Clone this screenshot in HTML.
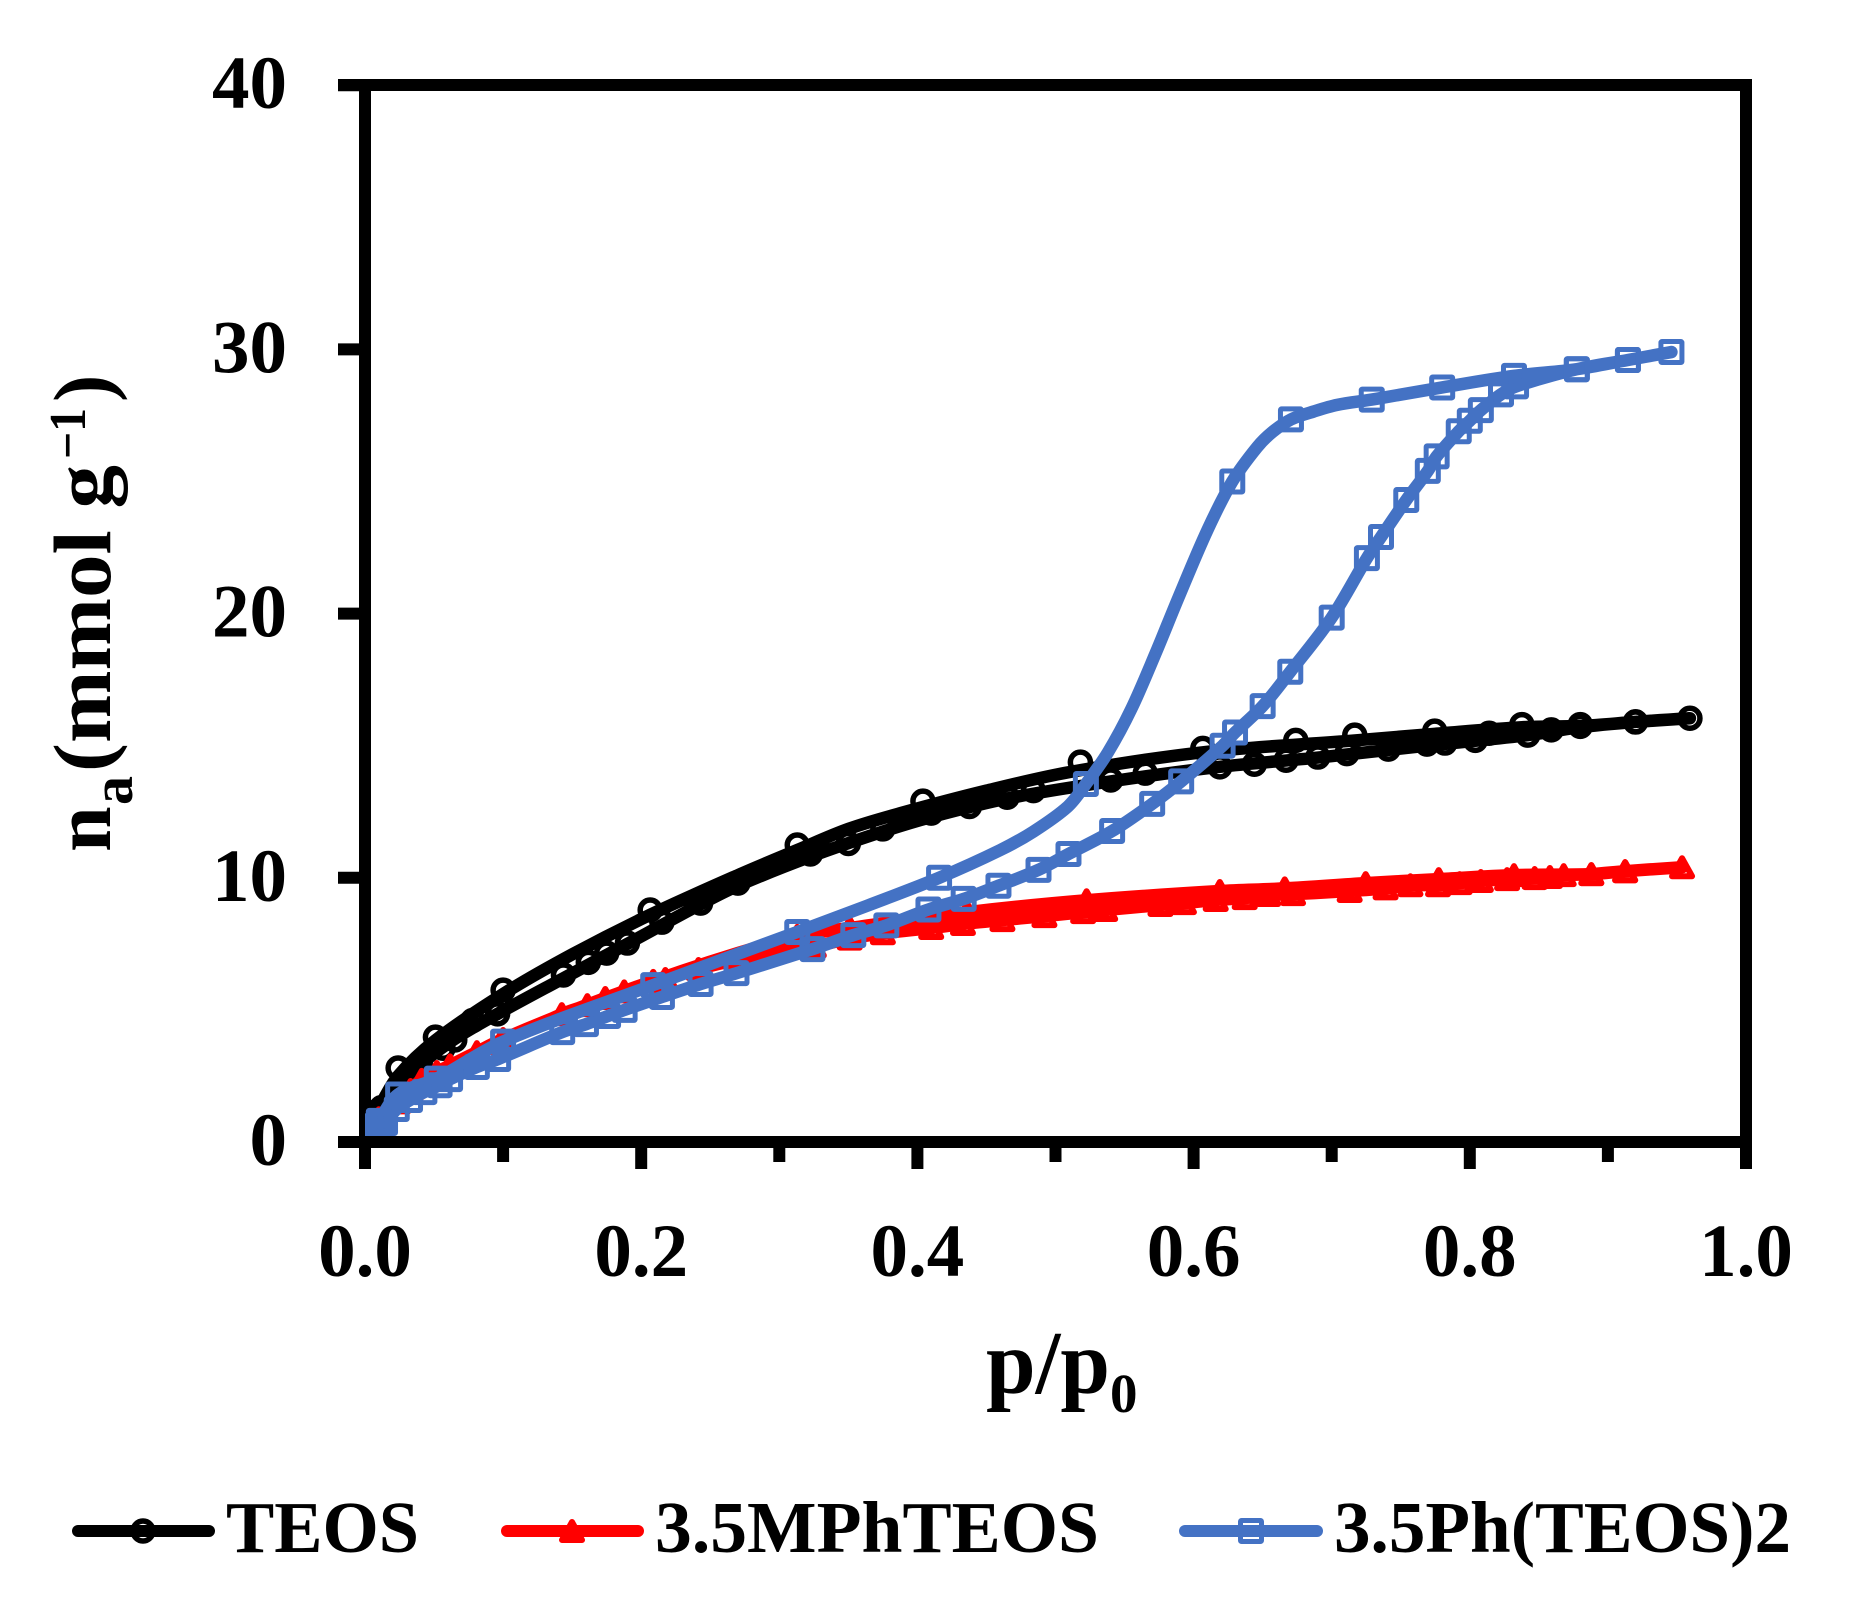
<!DOCTYPE html>
<html lang="en">
<head>
<meta charset="utf-8">
<title>Nitrogen sorption isotherms</title>
<style>
html,body{margin:0;padding:0;background:#fff;}
svg{display:block;}
text{font-family:"Liberation Serif",serif;font-weight:bold;fill:#000;}
</style>
</head>
<body>
<svg id="chart" xmlns="http://www.w3.org/2000/svg" width="1850" height="1604" viewBox="0 0 1850 1604">
  <rect x="0" y="0" width="1850" height="1604" fill="#fff"/>
  <defs>
    <clipPath id="plot-clip"><rect x="365" y="85" width="1381" height="1051"/></clipPath>
  </defs>
  <g id="series-layer" clip-path="url(#plot-clip)"></g>
  <g id="axis-layer"></g>

  <g transform="translate(110,852) rotate(-90)">
    <text x="0" y="0" font-size="82">n</text>
    <text x="47" y="22" font-size="58">a</text>
    <text x="80" y="0" font-size="82" textLength="307" lengthAdjust="spacingAndGlyphs" xml:space="preserve">(mmol g</text>
    <text x="393" y="-25" font-size="52" textLength="51" lengthAdjust="spacingAndGlyphs">−1</text>
    <text x="450" y="0" font-size="82">)</text>
  </g>

  <g>
    <text x="986" y="1393" font-size="90" textLength="124" lengthAdjust="spacingAndGlyphs">p/p</text>
    <text x="1110" y="1412" font-size="55">0</text>
  </g>

  <g>
    <g>
      <line x1="78" y1="1531" x2="209" y2="1531" stroke="#000" stroke-width="12" stroke-linecap="round"/>
      <circle cx="143" cy="1531" r="10" fill="none" stroke="#000" stroke-width="5.5"/>
      <text x="226" y="1552" font-size="73" textLength="193" lengthAdjust="spacingAndGlyphs">TEOS</text>
    </g>
    <g>
      <line x1="507" y1="1531" x2="638" y2="1531" stroke="#f00" stroke-width="12" stroke-linecap="round"/>
      <polygon points="572,1522 582,1540 562,1540" fill="#f00" stroke="#f00" stroke-width="6" stroke-linejoin="round"/>
      <text x="655" y="1552" font-size="73" textLength="444" lengthAdjust="spacingAndGlyphs">3.5MPhTEOS</text>
    </g>
    <g>
      <line x1="1185" y1="1531" x2="1317" y2="1531" stroke="#4472C4" stroke-width="12" stroke-linecap="round"/>
      <rect x="1240.5" y="1520.5" width="21" height="21" rx="1" fill="none" stroke="#4472C4" stroke-width="5"/>
      <text x="1334" y="1552" font-size="73" textLength="457" lengthAdjust="spacingAndGlyphs">3.5Ph(TEOS)2</text>
    </g>
  </g>
</svg>

<script>
// ---- Axis tick data ----
const yTickValues = [0, 10, 20, 30, 40];
const yTickLabels = ["0", "10", "20", "30", "40"];
const xMajorTickValues = [0, 0.2, 0.4, 0.6, 0.8, 1.0];
const xMajorTickLabels = ["0.0", "0.2", "0.4", "0.6", "0.8", "1.0"];
const xMinorTickValues = [0.1, 0.3, 0.5, 0.7, 0.9];

// ---- TEOS measured points ----
const teosP = [0.005,0.012,0.04,0.0565,0.065,0.078,0.096,0.1437,0.1617,0.175,0.19,0.215,0.243,0.27,0.3225,0.35,0.375,0.41,0.4377,0.465,0.484,0.54,0.565,0.619,0.644,0.667,0.69,0.711,0.741,0.769,0.782,0.804,0.814,0.842,0.859,0.88,0.92,0.9594,
               0.92,0.88,0.8377,0.7746,0.7167,0.674,0.6067,0.518,0.404,0.313,0.2065,0.1,0.051,0.024,0.01];
const teosN = [0.8,1.3,3.0,3.55,3.86,4.6,4.85,6.32,6.8,7.15,7.53,8.32,9.04,9.8,10.9,11.3,11.85,12.45,12.7,13.05,13.3,13.7,13.96,14.2,14.3,14.45,14.57,14.7,14.87,15.06,15.1,15.2,15.47,15.4,15.6,15.73,15.9,16.04,
               15.9,15.8,15.8,15.55,15.4,15.2,14.9,14.38,12.9,11.24,8.78,5.75,3.97,2.8,1.2];
// ---- TEOS fitted curve (up the lower branch, back down the upper branch) ----
const teosCurveP = [0.005,0.02,0.04,0.065,0.096,0.1437,0.19,0.243,0.27,0.3225,0.375,0.41,0.465,0.54,0.619,0.69,0.769,0.842,0.88,0.92,0.9594,
                    0.92,0.88,0.8377,0.7746,0.7167,0.6067,0.51,0.45,0.388,0.35,0.313,0.27,0.2065,0.15,0.1,0.051,0.024,0.01];
const teosCurveN = [0.8,1.6,2.9,3.9,4.85,6.2,7.5,9.0,9.7,10.8,11.75,12.3,13.0,13.65,14.2,14.55,15.0,15.4,15.7,15.9,16.04,
                    15.9,15.75,15.7,15.45,15.2,14.75,14.0,13.3,12.45,11.85,11.05,10.1,8.6,7.1,5.6,3.85,2.5,1.3];

// ---- 3.5MPhTEOS (adsorption then desorption) ----
const mphP = [0.012,0.033,0.041,0.052,0.0616,0.081,0.098,0.1425,0.161,0.174,0.1877,0.2175,0.2415,0.27,0.325,0.351,0.375,0.41,0.433,0.4616,0.492,0.52,0.536,0.576,0.593,0.616,0.637,0.654,0.672,0.713,0.739,0.757,0.777,0.7927,0.808,0.827,0.847,0.858,0.868,0.888,0.9125,0.9537,
              0.9125,0.888,0.832,0.7775,0.7246,0.666,0.619,0.5225,0.436,0.351,0.313,0.2087,0.1,0.052,0.024,0.01];
const mphN = [0.9,1.97,2.35,2.65,2.9,3.4,3.75,4.84,5.18,5.45,5.7,6.17,6.55,6.9,7.4,7.7,7.9,8.1,8.25,8.4,8.55,8.7,8.78,8.97,9.04,9.16,9.23,9.35,9.38,9.5,9.6,9.72,9.72,9.8,9.88,9.95,9.99,10.03,10.1,10.14,10.25,10.4,
              10.25,10.14,10.1,9.95,9.8,9.6,9.5,9.15,8.7,8.1,7.8,6.1,3.9,2.5,1.5,0.9];

// ---- 3.5Ph(TEOS)2 (adsorption then desorption); the flag says if a marker is drawn ----
const phP = [0.004,0.008,0.012,0.0145,0.023,0.0326,0.043,0.054,0.0616,0.081,0.0964,0.1428,0.16,0.176,0.188,0.215,0.243,0.269,0.324,0.3536,0.3775,0.408,0.4335,0.4587,0.4877,0.5094,0.541,0.57,0.591,0.621,0.63,0.65,0.67,0.70,0.7255,0.7357,0.754,0.7696,0.776,0.792,0.80,0.808,0.8226,0.8335,0.8775,0.9145,0.946,
             0.9145,0.8775,0.832,0.78,0.729,0.704,0.687,0.6705,0.657,0.646,0.628,0.61,0.589,0.5725,0.555,0.538,0.522,0.509,0.484,0.46,0.4157,0.364,0.313,0.2087,0.1,0.052,0.024,0.01];
const phN = [0.5,0.6,0.65,0.72,1.25,1.59,1.89,2.15,2.38,2.84,3.14,4.16,4.46,4.77,5.0,5.49,5.98,6.39,7.3,7.83,8.2,8.8,9.2,9.7,10.3,10.9,11.77,12.8,13.65,15.0,15.5,16.5,17.8,19.85,22.1,22.9,24.3,25.4,25.95,26.9,27.3,27.7,28.3,28.6,29.25,29.6,29.9,
             29.6,29.25,29.0,28.56,28.1,27.9,27.65,27.35,26.87,26.3,25.0,23.16,20.6,18.5,16.4,14.75,13.55,12.7,11.75,11.05,10.0,8.95,7.95,5.94,3.8,2.4,1.8,0.8];
const phMarked = [1,1,1,1,1,1,1,1,1,1,1,1,1,1,1,1,1,1,1,1,1,1,1,1,1,1,1,1,1,1,1,1,1,1,1,1,1,1,1,1,1,1,1,1,1,1,1,
                  1,1,1,1,1,0,0,1,0,0,1,0,0,0,0,0,1,0,0,0,1,0,1,1,1,1,1,1];

// ---- Axis functions ----
const xScale = function (p) { return 365 + 1381 * p; };
const yScale = function (n) { return 1142 - 26.42 * n; };

const NS = "http://www.w3.org/2000/svg";
const seriesLayer = document.getElementById("series-layer");
const axisLayer = document.getElementById("axis-layer");

function make(tag, parent) {
  const el = document.createElementNS(NS, tag);
  parent.appendChild(el);
  return el;
}

// Chord-length tangents so unevenly spaced readings do not overshoot
function smoothPath(pts) {
  const dist = function (a, b) { return Math.hypot(b[0] - a[0], b[1] - a[1]) || 0.001; };
  const tangent = function (i) {
    const a = pts[Math.max(i - 1, 0)];
    const b = pts[Math.min(i + 1, pts.length - 1)];
    const len = dist(a, b);
    return [(b[0] - a[0]) / len, (b[1] - a[1]) / len];
  };
  let d = "M" + pts[0][0].toFixed(2) + " " + pts[0][1].toFixed(2);
  for (let i = 0; i < pts.length - 1; i++) {
    const p1 = pts[i];
    const p2 = pts[i + 1];
    const h = dist(p1, p2) / 3;
    const t1 = tangent(i);
    const t2 = tangent(i + 1);
    d += "C" + (p1[0] + t1[0] * h).toFixed(2) + " " + (p1[1] + t1[1] * h).toFixed(2) + " " + (p2[0] - t2[0] * h).toFixed(2) + " " + (p2[1] - t2[1] * h).toFixed(2) + " " + p2[0].toFixed(2) + " " + p2[1].toFixed(2);
  }
  return d;
}

function drawSeries(name, lineP, lineN, markP, markN, color, width, marked, shape) {
  const group = make("g", seriesLayer);
  
  

  const linePts = lineP.map(function (p, i) { return [xScale(p), yScale(lineN[i])]; });
  const line = make("path", group);
  
  
  line.setAttribute("d", smoothPath(linePts));
  line.setAttribute("fill", "none");
  line.setAttribute("stroke", color);
  line.setAttribute("stroke-width", width);
  line.setAttribute("stroke-linejoin", "round");
  line.setAttribute("stroke-linecap", "round");

  markP.forEach(function (p, i) {
    if (marked && !marked[i]) { return; }
    const cx = xScale(p);
    const cy = yScale(markN[i]);
    let m;
    if (shape === "circle") {
      m = make("circle", group);
      m.setAttribute("cx", cx);
      m.setAttribute("cy", cy);
      m.setAttribute("r", 10);
      m.setAttribute("fill", "none");
      m.setAttribute("stroke-width", 5.5);
    } else if (shape === "triangle") {
      m = make("polygon", group);
      m.setAttribute("points", cx + "," + (cy - 9) + " " + (cx + 10) + "," + (cy + 9) + " " + (cx - 10) + "," + (cy + 9));
      m.setAttribute("fill", "none");
      m.setAttribute("stroke-linejoin", "round");
      m.setAttribute("stroke-width", 6);
    } else {
      m = make("rect", group);
      m.setAttribute("x", cx - 10.5);
      m.setAttribute("y", cy - 10.5);
      m.setAttribute("width", 21);
      m.setAttribute("height", 21);
      m.setAttribute("rx", 1);
      m.setAttribute("fill", "none");
      m.setAttribute("stroke-width", 5);
    }
    m.setAttribute("stroke", color);
    
    
  });
}

function axisLine(x1, y1, x2, y2) {
  const l = make("line", axisLayer);
  l.setAttribute("x1", x1);
  l.setAttribute("y1", y1);
  l.setAttribute("x2", x2);
  l.setAttribute("y2", y2);
  l.setAttribute("stroke", "#000");
  l.setAttribute("stroke-width", 12);
  return l;
}

// Axes sit under the series inside the plot, so insert them first visually
const svgRoot = document.getElementById("chart");
svgRoot.insertBefore(axisLayer, seriesLayer);

const frameTop = axisLine(338, 85, 1752, 85);


const frameRight = axisLine(1746, 85, 1746, 1142);


const yAxisLine = axisLine(365, 85, 365, 1169);



yTickValues.forEach(function (v, i) {
  const t = axisLine(338, yScale(v), 365, yScale(v));
  
  
  const label = make("text", axisLayer);
  
  
  label.setAttribute("x", 287);
  label.setAttribute("y", yScale(v) + 23);
  label.setAttribute("font-size", 75);
  label.setAttribute("text-anchor", "end");
  label.textContent = yTickLabels[i];
});

xMajorTickValues.forEach(function (v, i) {
  const t = axisLine(xScale(v), 1142, xScale(v), 1169);
  
  
  const label = make("text", axisLayer);
  
  
  label.setAttribute("x", xScale(v));
  label.setAttribute("y", 1276);
  label.setAttribute("font-size", 75);
  label.setAttribute("text-anchor", "middle");
  label.textContent = xMajorTickLabels[i];
});

xMinorTickValues.forEach(function (v) {
  const t = axisLine(xScale(v), 1142, xScale(v), 1162);
  
  
});

drawSeries("teos", teosCurveP, teosCurveN, teosP, teosN, "#000000", 12.5, null, "circle");
drawSeries("3-5mphteos", mphP, mphN, mphP, mphN, "#FF0000", 12.5, null, "triangle");
drawSeries("3-5ph-teos-2", phP, phN, phP, phN, "#4472C4", 12.5, phMarked, "square");

// Bottom axis line stays above the series
const xAxisLine = make("line", svgRoot);
xAxisLine.setAttribute("x1", 338);
xAxisLine.setAttribute("y1", 1142);
xAxisLine.setAttribute("x2", 1752);
xAxisLine.setAttribute("y2", 1142);
xAxisLine.setAttribute("stroke", "#000");
xAxisLine.setAttribute("stroke-width", 12);


</script>
</body>
</html>
